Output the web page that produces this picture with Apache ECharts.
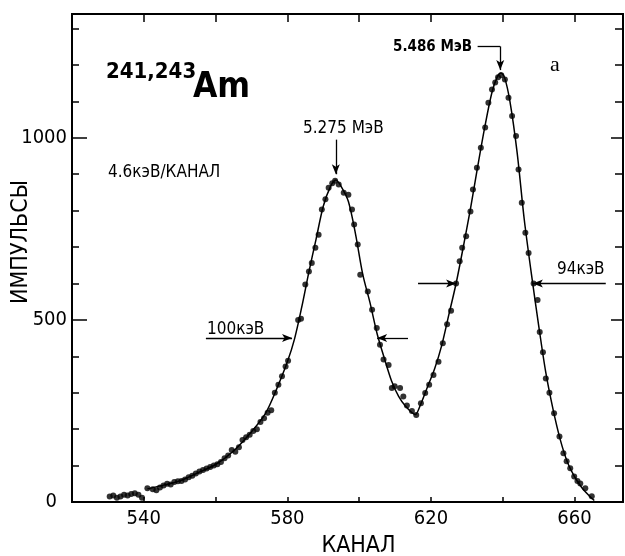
<!DOCTYPE html>
<html><head><meta charset="utf-8">
<script src="https://cdn.jsdelivr.net/npm/echarts@6/dist/echarts.min.js"></script>
<style>html,body{margin:0;padding:0;background:#fff}#c{width:625px;height:556px}</style>
</head><body><div id="c"></div>
<script>
// measured points (channel, counts)
const channels = [530.5,531.5,532.5,533.5,534.5,535.5,536.5,537.5,538.5,539.5,541,542.5,543.5,544.5,545.5,546.5,547.5,548.5,549.5,550.5,551.5,552.5,553.5,554.5,555.5,556.5,557.5,558.5,559.5,560.5,561.5,562.5,563.5,564.5,565.5,566.5,567.5,568.5,569.5,570.5,571.5,572.5,573.5,574.5,575.5,576.5,577.5,578.5,579.5,580.2,583,583.8,585,586,586.8,587.8,588.7,589.6,590.6,591.5,592.5,593.3,594.3,595.7,597,598,598.6,599.6,600.3,602.4,603.6,604.9,605.8,606.8,608.2,609.1,609.9,611.4,612.3,613.3,614.7,615.9,617.2,618.4,619.5,620.7,622.1,623.3,624.5,625.6,627,628,628.7,629.8,631,631.7,632.8,633.9,635.1,636,637,637.9,638.7,639.6,640.6,641.6,642.6,643.7,644.4,645.3,646.3,647.2,648.6,649.7,650.3,651.2,652,653,654.3,655.8,656.9,657.8,658.8,659.9,660.8,661.6,663,664.8];
const counts = [15,18,12,15,20,18,22,24,20,12,38,35,32,40,45,50,48,55,57,58,62,68,72,78,84,88,92,96,100,104,110,120,128,143,138,150,170,178,185,195,200,220,230,245,252,300,322,345,372,388,500,503,597,633,656,698,734,803,831,863,875,882,872,849,844,803,762,707,624,578,528,478,432,391,376,313,318,313,290,265,250,239,271,299,322,349,385,436,488,525,600,661,698,730,798,858,918,973,1028,1096,1133,1152,1166,1172,1160,1110,1060,1005,913,822,739,684,600,555,467,411,339,300,244,180,134,112,93,70,58,51,38,16];
// fitted curve nodes
const fitChannels = [541,545,550,555,560,565,570,574,577,580,582,584,586,588,590,592,593.5,595,597,599,601,603,605,607,609,611,613,615.6,617,619,621,623,625,627,629,631,633,635,637,638.5,639.5,640.5,642,644,646,648,650,652,654,656,658,660,662,664,665.5];
const fitCounts = [36,45,58,80,103,140,193,245,310,385,448,535,632,722,812,866,884,866,825,735,625,548,462,395,333,290,262,240,265,315,365,430,515,600,700,805,920,1030,1125,1168,1178,1166,1100,960,775,625,485,355,255,172,110,70,40,18,4];
const xTickLabels = [540,580,620,660];
const yTickLabels = [0,500,1000];
// annotation lines in data units: [x1,y1,x2,y2,arrowAtEnd]
const fwhmLines = [
  [557.3,450,581.3,450,1],
  [613.6,450,605.0,450,1],
  [616.4,600,627.0,600,1],
  [668.7,600,648.4,600,1]
];
const peakLines = [
  [593.5,995,593.5,900,1],
  [633.0,1251,639.3,1251,0],
  [639.3,1251,639.3,1186,1]
];

const FONT = "'DejaVu Sans Condensed','DejaVu Sans',sans-serif";
const chart = echarts.init(document.getElementById('c'), null, {renderer:'canvas'});

const zip = (a,b)=>a.map((v,i)=>[v,b[i]]);
const mkLines = (arr)=>arr.map(l=>[
  {coord:[l[0],l[1]], symbol:'none'},
  {coord:[l[2],l[3]], symbol: l[4] ? 'arrow' : 'none'}
]);

const xBase = {type:'value', min:520, max:673.5, interval:20, splitLine:{show:false},
  axisLine:{show:true, onZero:false, lineStyle:{color:'#000', width:2}}};
const yBase = {type:'value', min:0, max:1340, splitLine:{show:false},
  axisLine:{show:true, onZero:false, lineStyle:{color:'#000', width:2}}};

chart.setOption({
  animation:false,
  backgroundColor:'#fff',
  grid:{left:72, right:2, top:14, bottom:54, outerBoundsMode:'none'},
  xAxis:[
    Object.assign({}, xBase, {position:'bottom',
      axisTick:{show:true, inside:true, length:5, lineStyle:{color:'#000', width:1.5}},
      axisLabel:{margin:7, color:'#000', fontFamily:FONT, fontSize:20,
        formatter:v=>xTickLabels.includes(v)?String(v):''},
      name:'КАНАЛ', nameLocation:'middle', nameGap:33,
      nameTextStyle:{color:'#000', fontFamily:FONT, fontSize:23, padding:[0,0,0,22]}}),
    Object.assign({}, xBase, {position:'top',
      axisTick:{show:true, inside:true, length:8, lineStyle:{color:'#000', width:1.5}},
      axisLabel:{show:false}})
  ],
  yAxis:[
    Object.assign({}, yBase, {position:'left', interval:500,
      axisTick:{show:true, inside:true, length:15, lineStyle:{color:'#000', width:1.5}},
      axisLabel:{margin:5, color:'#000', fontFamily:FONT, fontSize:20,
        formatter:v=>v===0?'{z|0}':(yTickLabels.includes(v)?String(v):''),
        rich:{z:{padding:[0,10,0,0], color:'#000', fontFamily:FONT, fontSize:20}}}}),
    Object.assign({}, yBase, {position:'left', interval:100,
      axisTick:{show:true, inside:true, length:7, lineStyle:{color:'#000', width:1.5}},
      axisLabel:{show:false}}),
    Object.assign({}, yBase, {position:'right', interval:100,
      axisTick:{show:true, inside:true, length:8, lineStyle:{color:'#000', width:1.5}},
      axisLabel:{show:false}}),
    Object.assign({}, yBase, {position:'right', interval:500,
      axisTick:{show:true, inside:true, length:12, lineStyle:{color:'#000', width:1.5}},
      axisLabel:{show:false}})
  ],
  series:[
    {type:'line', name:'fit', data:zip(fitChannels, fitCounts), smooth:0.3,
      showSymbol:false, lineStyle:{color:'#000', width:1.5}, z:2,
      markLine:{silent:true, symbolSize:[6,10], label:{show:false},
        lineStyle:{color:'#000', width:1.3, type:'solid'},
        data: mkLines(fwhmLines).concat(mkLines(peakLines))}},
    {type:'scatter', name:'points', data:zip(channels, counts), symbol:'circle',
      symbolSize:6, itemStyle:{color:'#000'}, z:3}
  ],
  graphic:[
    {type:'text', x:21, y:242, rotation:Math.PI/2,
      style:{text:'ИМПУЛЬСЫ', fill:'#000', font:"23px "+FONT, align:'center', verticalAlign:'middle'}},
    {type:'text', left:106, top:61, style:{text:'241,243', fill:'#000', font:"bold 22px "+FONT}},
    {type:'text', left:193, top:70, style:{text:'Am', fill:'#000', font:"bold 35px "+FONT}},
    {type:'text', left:108, top:164, style:{text:'4.6кэВ/КАНАЛ', fill:'#000', font:"17px "+FONT}},
    {type:'text', left:303, top:120, style:{text:'5.275 МэВ', fill:'#000', font:"17px "+FONT}},
    {type:'text', left:393, top:40, style:{text:'5.486 МэВ', fill:'#000', font:"bold 15px "+FONT}},
    {type:'text', left:550, top:54, style:{text:'а', fill:'#000', font:"22px 'Liberation Serif','DejaVu Serif',serif"}},
    {type:'text', left:207, top:321, style:{text:'100кэВ', fill:'#000', font:"17px "+FONT}},
    {type:'text', left:557, top:261, style:{text:'94кэВ', fill:'#000', font:"17px "+FONT}}
  ]
});
</script></body></html>
